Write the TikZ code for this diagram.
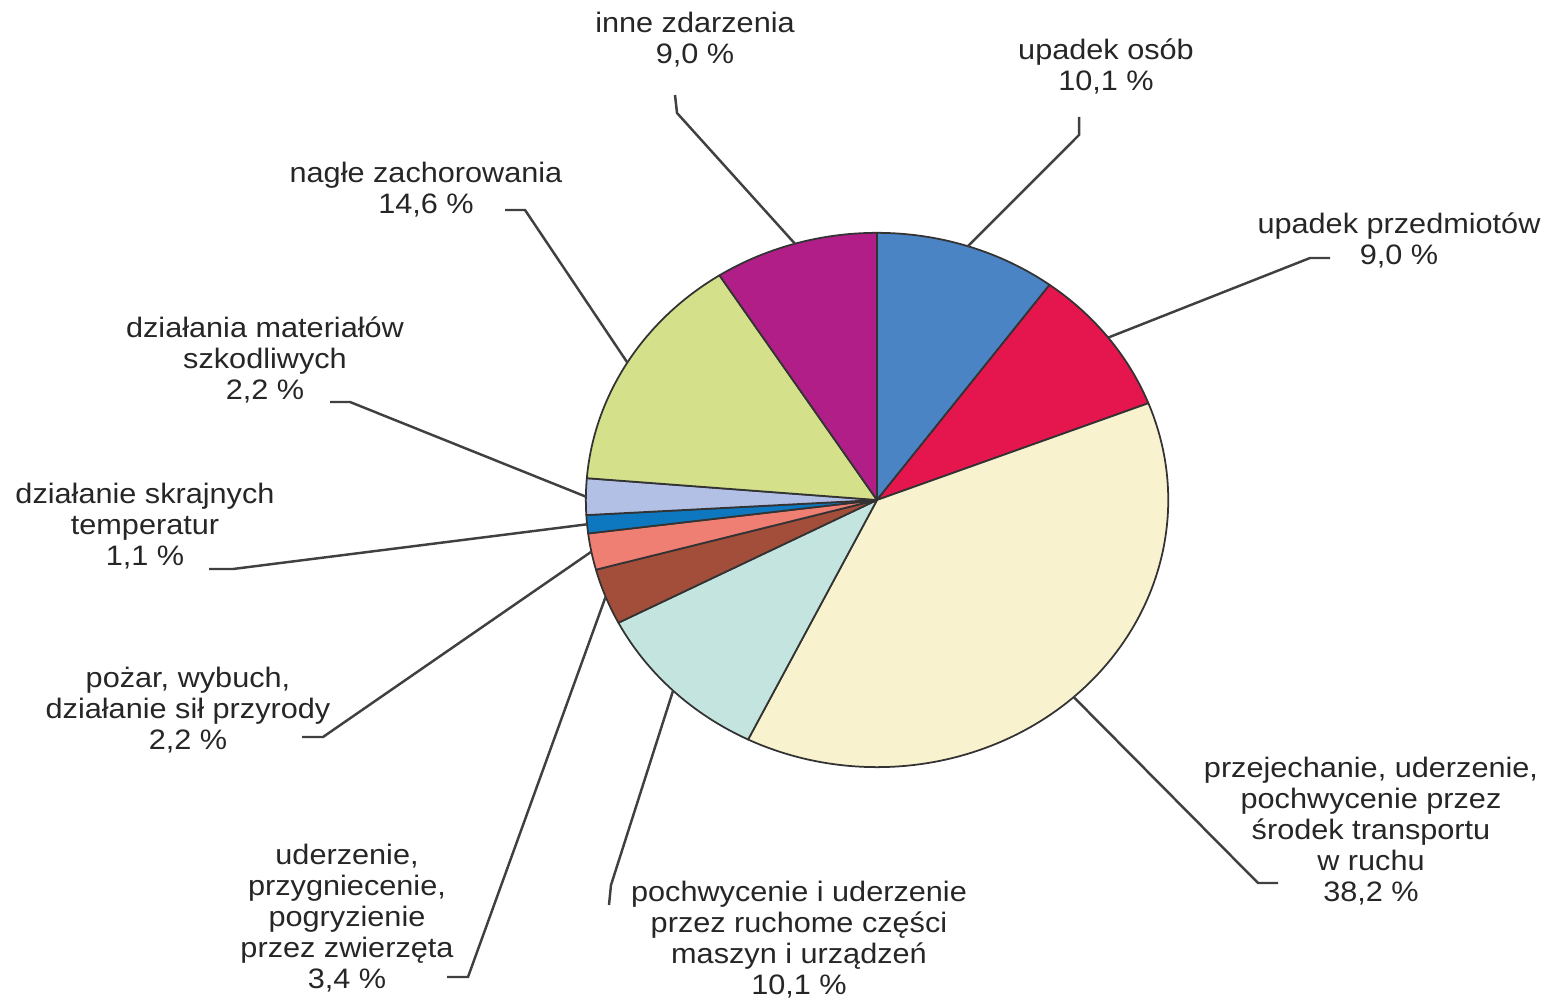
\documentclass[tikz,border=0pt]{standalone}
\usepackage{fontspec}
\setmainfont{Liberation Sans}[FakeStretch=1.09]
\definecolor{osob}{HTML}{4A84C4}
\definecolor{przedm}{HTML}{E5154D}
\definecolor{transp}{HTML}{F8F2CE}
\definecolor{maszyn}{HTML}{C4E4E0}
\definecolor{zwierz}{HTML}{A24E3A}
\definecolor{pozar}{HTML}{EF7F73}
\definecolor{temper}{HTML}{0D77C0}
\definecolor{mater}{HTML}{B3C0E5}
\definecolor{zachor}{HTML}{D4E08A}
\definecolor{inne}{HTML}{B21E88}
\begin{document}
\begin{tikzpicture}[x=0.01cm,y=0.01cm,
    slice/.style={draw=black!80,line width=0.5pt,line join=round},
    lbl/.style={align=center,inner sep=0pt,font=\fontsize{8}{8.8}\selectfont,text=black!85},
    leader/.style={draw=black!75,line width=0.7pt}]
    \useasboundingbox (0,0) rectangle (1546,1000);
\coordinate (c) at (877,500);

\filldraw[slice,fill=osob] (c) -- ++(90:2.91cm and 2.67cm) arc[start angle=90,end angle=53.64,x radius=2.91cm,y radius=2.67cm] -- cycle;
\filldraw[slice,fill=przedm] (c) -- ++(53.64:2.91cm and 2.67cm) arc[start angle=53.64,end angle=21.24,x radius=2.91cm,y radius=2.67cm] -- cycle;
\filldraw[slice,fill=transp] (c) -- ++(21.24:2.91cm and 2.67cm) arc[start angle=21.24,end angle=-116.28,x radius=2.91cm,y radius=2.67cm] -- cycle;
\filldraw[slice,fill=maszyn] (c) -- ++(-116.28:2.91cm and 2.67cm) arc[start angle=-116.28,end angle=-152.64,x radius=2.91cm,y radius=2.67cm] -- cycle;
\filldraw[slice,fill=zwierz] (c) -- ++(-152.64:2.91cm and 2.67cm) arc[start angle=-152.64,end angle=-164.88,x radius=2.91cm,y radius=2.67cm] -- cycle;
\filldraw[slice,fill=pozar] (c) -- ++(-164.88:2.91cm and 2.67cm) arc[start angle=-164.88,end angle=-172.8,x radius=2.91cm,y radius=2.67cm] -- cycle;
\filldraw[slice,fill=temper] (c) -- ++(-172.8:2.91cm and 2.67cm) arc[start angle=-172.8,end angle=-176.76,x radius=2.91cm,y radius=2.67cm] -- cycle;
\filldraw[slice,fill=mater] (c) -- ++(-176.76:2.91cm and 2.67cm) arc[start angle=-176.76,end angle=-184.68,x radius=2.91cm,y radius=2.67cm] -- cycle;
\filldraw[slice,fill=zachor] (c) -- ++(175.32:2.91cm and 2.67cm) arc[start angle=175.32,end angle=122.76,x radius=2.91cm,y radius=2.67cm] -- cycle;
\filldraw[slice,fill=inne] (c) -- ++(122.76:2.91cm and 2.67cm) arc[start angle=122.76,end angle=90,x radius=2.91cm,y radius=2.67cm] -- cycle;

\path (c) ++(106.38:2.91cm and 2.67cm) coordinate (pInne);
\path (c) ++(71.82:2.91cm and 2.67cm) coordinate (pOsob);
\path (c) ++(37.44:2.91cm and 2.67cm) coordinate (pPrzedm);
\path (c) ++(-47.52:2.91cm and 2.67cm) coordinate (pTransp);
\path (c) ++(-134.46:2.91cm and 2.67cm) coordinate (pMaszyn);
\path (c) ++(-158.76:2.91cm and 2.67cm) coordinate (pZwierz);
\path (c) ++(-168.84:2.91cm and 2.67cm) coordinate (pPozar);
\path (c) ++(-174.78:2.91cm and 2.67cm) coordinate (pTemper);
\path (c) ++(179.28:2.91cm and 2.67cm) coordinate (pMater);
\path (c) ++(149.04:2.91cm and 2.67cm) coordinate (pZachor);

\node[lbl] (inne) at (695,960) {inne zdarzenia\\9,0 \%};
\node[lbl] (osob) at (1106,934) {upadek osób\\10,1 \%};
\node[lbl] (przedm) at (1399,760) {upadek przedmiotów\\9,0 \%};
\node[lbl] (transp) at (1371,169) {przejechanie, uderzenie,\\pochwycenie przez\\środek transportu\\w ruchu\\38,2 \%};
\node[lbl] (maszyn) at (799,60) {pochwycenie i uderzenie\\przez ruchome części\\maszyn i urządzeń\\10,1 \%};
\node[lbl] (zwierz) at (347,82) {uderzenie,\\przygniecenie,\\pogryzienie\\przez zwierzęta\\3,4 \%};
\node[lbl] (pozar) at (188,290) {pożar, wybuch,\\działanie sił przyrody\\2,2 \%};
\node[lbl] (temper) at (145,474) {działanie skrajnych\\temperatur\\1,1 \%};
\node[lbl] (mater) at (265,640) {działania materiałów\\szkodliwych\\2,2 \%};
\node[lbl] (zachor) at (426,810) {nagłe zachorowania\\14,6 \%};

\coordinate (sInne) at (675,905);
\coordinate (kInne) at (677,887);
\coordinate (sOsob) at (1079,883);
\coordinate (kOsob) at (1079,865);
\coordinate (sPrzedm) at (1330,742);
\coordinate (kPrzedm) at (1310,742);
\coordinate (sTransp) at (1278,117);
\coordinate (kTransp) at (1258,117);
\coordinate (sMaszyn) at (609,95);
\coordinate (kMaszyn) at (611,115);
\coordinate (sZwierz) at (447,23);
\coordinate (kZwierz) at (468,23);
\coordinate (sPozar) at (302,263);
\coordinate (kPozar) at (323,263);
\coordinate (sTemper) at (209,431);
\coordinate (kTemper) at (233,431);
\coordinate (sMater) at (330,598);
\coordinate (kMater) at (350,598);
\coordinate (sZachor) at (505,790);
\coordinate (kZachor) at (525,790);

\draw[leader] (sInne) -- (kInne) -- (pInne);
\draw[leader] (sOsob) -- (kOsob) -- (pOsob);
\draw[leader] (sPrzedm) -- (kPrzedm) -- (pPrzedm);
\draw[leader] (sTransp) -- (kTransp) -- (pTransp);
\draw[leader] (sMaszyn) -- (kMaszyn) -- (pMaszyn);
\draw[leader] (sZwierz) -- (kZwierz) -- (pZwierz);
\draw[leader] (sPozar) -- (kPozar) -- (pPozar);
\draw[leader] (sTemper) -- (kTemper) -- (pTemper);
\draw[leader] (sMater) -- (kMater) -- (pMater);
\draw[leader] (sZachor) -- (kZachor) -- (pZachor);
\end{tikzpicture}
\end{document}
